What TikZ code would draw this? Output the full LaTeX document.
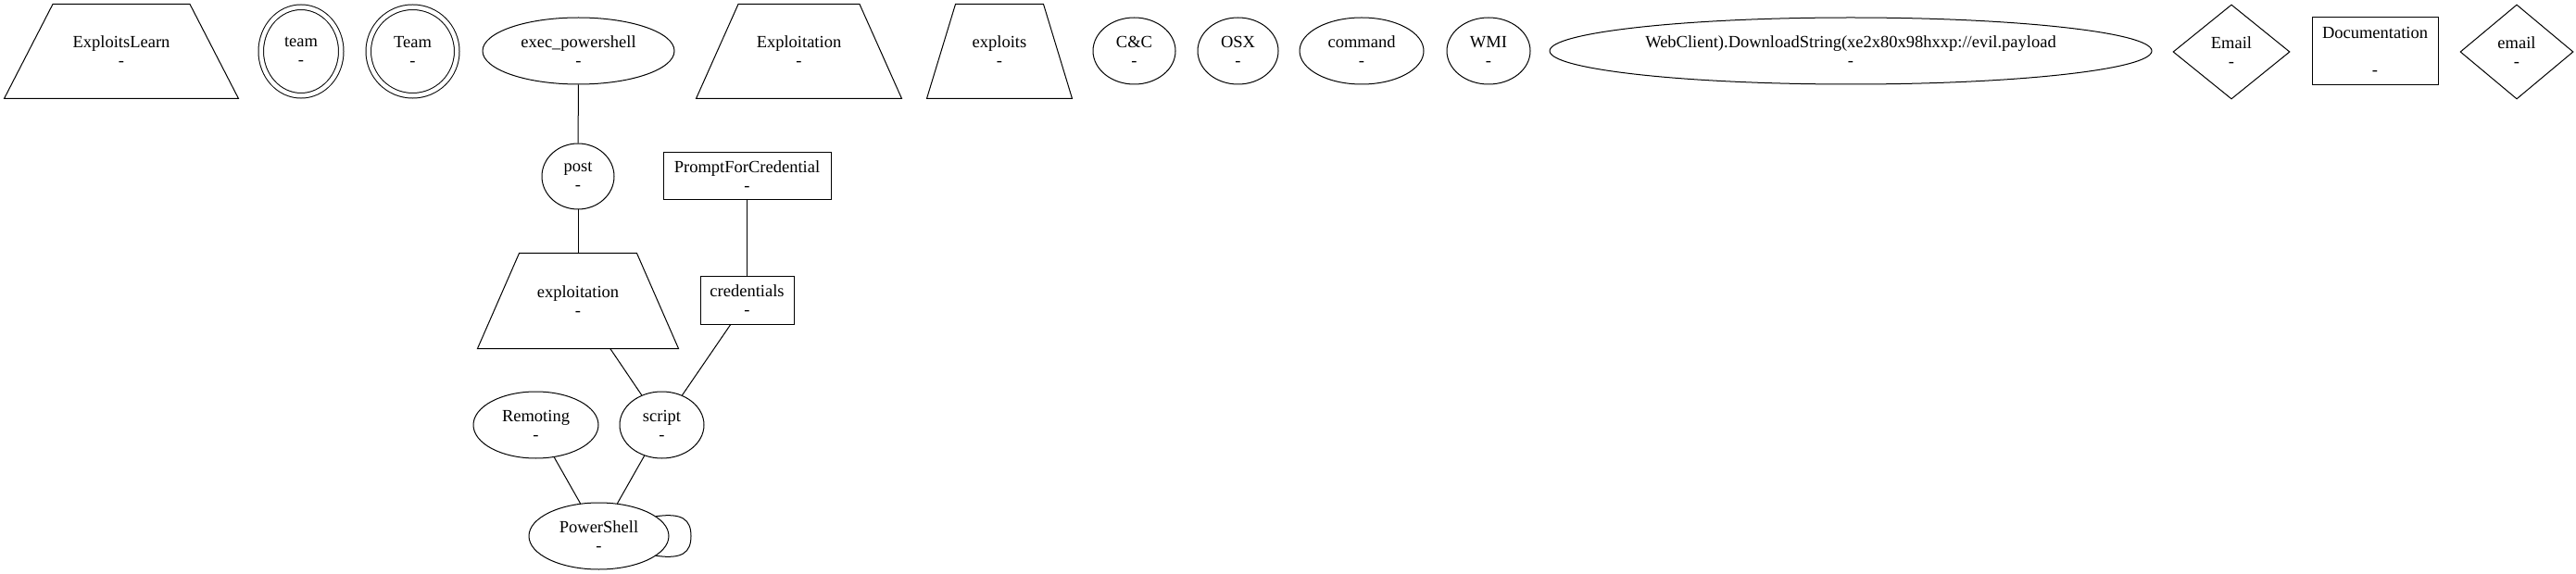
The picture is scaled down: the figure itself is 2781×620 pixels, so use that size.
\documentclass[tikz,border=0pt]{standalone}
\usepackage{fontspec}
\setmainfont{Liberation Serif}
\usetikzlibrary{shapes.geometric}
\usetikzlibrary{calc}

\tikzset{
  gv/.style={draw, line width=1pt, inner sep=0pt, align=center,
    font=\fontsize{18.5}{20}\selectfont},
  oval/.style={gv, ellipse},
  ring/.style={gv, ellipse, double, double distance=4.5pt},
  trapbox/.style={gv, draw=none, rectangle, minimum height=101pt},
  boxnode/.style={gv, rectangle},
  rhomb/.style={gv, diamond, minimum height=102pt},
  link/.style={line width=1pt}
}

\begin{document}
\begin{tikzpicture}[x=1pt, y=-1pt]
\useasboundingbox (0,0) rectangle (2781,620);

% top row
\node[trapbox, minimum width=252pt] (n_exploitslearn) at (131,55.5) {ExploitsLearn\\-};
\node[ring, minimum width=86.5pt, minimum height=95.5pt] (n_team_lc) at (325,55.5) {team\\-};
\node[ring, minimum width=95.5pt, minimum height=95.5pt] (n_team_uc) at (445.5,55.5) {Team\\-};
\node[oval, minimum width=207pt, minimum height=72pt] (n_exec_powershell) at (624.5,55) {exec\_powershell\\-};
\node[trapbox, minimum width=221pt] (n_exploitation_uc) at (862.5,55.5) {Exploitation\\-};
\node[trapbox, minimum width=156pt] (n_exploits) at (1079,55.5) {exploits\\-};
\node[oval, minimum width=89pt, minimum height=72pt] (n_cc) at (1224.5,55) {C\&C\\-};
\node[oval, minimum width=87pt, minimum height=72pt] (n_osx) at (1336.5,55) {OSX\\-};
\node[oval, minimum width=134pt, minimum height=72pt] (n_command) at (1470,55) {command\\-};
\node[oval, minimum width=90pt, minimum height=72pt] (n_wmi) at (1607,55) {WMI\\-};
\node[oval, minimum width=650pt, minimum height=72pt] (n_webclient) at (1998,55) {WebClient).DownloadString(xe2x80x98hxxp://evil.payload\\-};
\node[rhomb, minimum width=126pt] (n_email_uc) at (2409,56) {Email\\-};
\node[boxnode, minimum width=136pt, minimum height=73pt] (n_documentation) at (2564,55.5) {Documentation\\~\\-};
\node[rhomb, minimum width=122pt] (n_email_lc) at (2717,56) {email\\-};

\draw[link] ($(n_exploitslearn.north west)+(52.5,0)$)--($(n_exploitslearn.north east)+(-52.5,0)$)--(n_exploitslearn.south east)--(n_exploitslearn.south west)--cycle;
\draw[link] ($(n_exploitation_uc.north west)+(45.5,0)$)--($(n_exploitation_uc.north east)+(-45.5,0)$)--(n_exploitation_uc.south east)--(n_exploitation_uc.south west)--cycle;
\draw[link] ($(n_exploits.north west)+(31,0)$)--($(n_exploits.north east)+(-31,0)$)--(n_exploits.south east)--(n_exploits.south west)--cycle;

% connected part
\node[oval, minimum width=78pt, minimum height=71pt] (n_post) at (624,190.5) {post\\-};
\node[boxnode, minimum width=181pt, minimum height=51pt] (n_prompt) at (806.5,190.5) {PromptForCredential\\-};
\node[trapbox, minimum width=216pt, minimum height=102pt] (n_exploitation_lc) at (624,325) {exploitation\\-};
\node[boxnode, minimum width=101pt, minimum height=51pt] (n_credentials) at (806.5,324.5) {credentials\\-};
\node[oval, minimum width=135pt, minimum height=72pt] (n_remoting) at (578.5,459) {Remoting\\-};
\node[oval, minimum width=91pt, minimum height=72pt] (n_script) at (714.5,459) {script\\-};
\node[oval, minimum width=151pt, minimum height=72pt] (n_powershell) at (646.5,579) {PowerShell\\-};
\coordinate (c_loop) at (746,579);

\draw[link] ($(n_exploitation_lc.north west)+(45,0)$)--($(n_exploitation_lc.north east)+(-45,0)$)--(n_exploitation_lc.south east)--(n_exploitation_lc.south west)--cycle;

\draw[link] (n_exec_powershell)--(n_post);
\draw[link] (n_post)--(n_exploitation_lc);
\draw[link] (n_prompt)--(n_credentials);
\draw[link] (n_exploitation_lc)--(n_script);
\draw[link] (n_credentials)--(n_script);
\draw[link] (n_remoting)--(n_powershell);
\draw[link] (n_script)--(n_powershell);
\draw[link] (n_powershell.19) .. controls +(28,-4) and +(0,-18) .. (c_loop) .. controls +(0,18) and +(28,4) .. (n_powershell.-19);
\end{tikzpicture}
\end{document}
